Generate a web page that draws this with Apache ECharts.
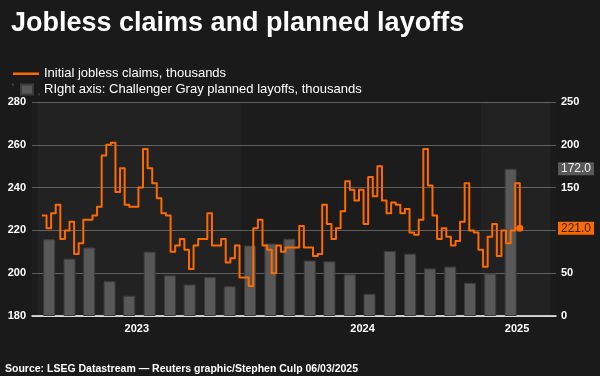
<!DOCTYPE html>
<html>
<head>
<meta charset="utf-8">
<script src="https://cdn.jsdelivr.net/npm/echarts@6/dist/echarts.min.js"></script>
<style>
  html, body { margin: 0; background: #1a1a1a; }
  #chart { width: 600px; height: 376px; }
</style>
</head>
<body>
<div id="chart"></div>
<script>
// weekly initial jobless claims (thousands), weeks ending Saturday from 2023-03-04
var firstWeek = '2023-03-04';
var claims = [
  227, 221, 228, 232, 216, 220, 224, 209, 214, 225, 225, 227, 231, 255, 260, 261,
  238, 249, 232, 231, 231, 240, 258, 249, 242, 235, 228, 227, 210, 213, 216, 211,
  202, 213, 216, 216, 228, 213, 213, 216, 205, 207, 213, 198, 198, 194, 221, 225,
  213, 211, 200, 213, 210, 212, 212, 212, 222, 212, 212, 208, 209, 232, 223, 216,
  221, 229, 243, 239, 234, 239, 223, 245, 236, 250, 234, 228, 233, 232, 228, 230,
  219, 218, 225, 258, 241, 227, 216, 221, 217, 213, 215, 224, 242, 220, 219, 211,
  203, 217, 223, 208, 220, 214, 220, 242, 221
];

// Challenger Gray monthly planned layoffs (thousands)
var layoffMonths = [
  '2023-03', '2023-04', '2023-05', '2023-06', '2023-07', '2023-08', '2023-09', '2023-10',
  '2023-11', '2023-12', '2024-01', '2024-02', '2024-03', '2024-04', '2024-05', '2024-06',
  '2024-07', '2024-08', '2024-09', '2024-10', '2024-11', '2024-12', '2025-01', '2025-02'
];
var layoffs = [
  89.7, 67.0, 80.1, 40.7, 23.7, 75.2, 47.5, 36.8, 45.5, 34.8, 82.3, 84.6,
  90.3, 64.8, 63.8, 48.8, 25.9, 75.9, 72.8, 55.6, 57.7, 38.8, 49.8, 172.0
];

var xStart = '2023-02-26';
var xEnd = '2025-04-16';
var yearLabelDates = ['2023-08-01', '2024-07-02', '2025-02-17'];
var shadedYears = [[xStart, '2024-01-01'], ['2025-01-01', xEnd]];

var orange = '#ff6a00';
var barGray = '#585858';
var font = 'Liberation Sans, Arial, sans-serif';

function ts(d) { return new Date(d + 'T00:00:00Z').getTime(); }
var day = 24 * 3600 * 1000;
var t0 = ts(firstWeek);
var claimData = claims.map(function(v, i) { return [t0 + i * 7 * day, v]; });
var layoffData = layoffs.map(function(v, i) { return [ts(layoffMonths[i] + '-15'), v]; });
var lastClaim = claimData[claimData.length - 1];
var lastLayoff = layoffs[layoffs.length - 1];

var chart = echarts.init(document.getElementById('chart'), null, { renderer: 'canvas' });

chart.setOption({
  backgroundColor: '#1a1a1a',
  animation: false,
  textStyle: { fontFamily: font },
  title: [{
    text: 'Jobless claims and planned layoffs',
    left: 6, top: 5,
    textStyle: { color: '#ffffff', fontSize: 27, fontWeight: 'bold', fontFamily: font }
  }, {
    text: 'Source: LSEG Datastream \u2014 Reuters graphic/Stephen Culp 06/03/2025',
    left: 0, top: 359,
    textStyle: { color: '#ffffff', fontSize: 10.5, fontWeight: 'bold', fontFamily: font }
  }],
  legend: {
    orient: 'vertical',
    left: 12, top: 67, padding: 0,
    itemWidth: 26, itemHeight: 10, itemGap: 3,
    textStyle: { color: '#ffffff', fontSize: 13, fontFamily: font },
    data: [
      { name: 'Initial jobless claims, thousands',
        icon: 'path://M0,0h0.01v0.01h-0.01zM0,4h26v2.4h-26zM25.99,9.99h0.01v0.01h-0.01z' },
      { name: 'RIght axis: Challenger Gray planned layoffs, thousands',
        icon: 'path://M0,0h0.01v0.01h-0.01zM8,0h12v10h-12zM25.99,9.99h0.01v0.01h-0.01z' }
    ]
  },
  grid: {
    left: 32, right: 44, top: 102, bottom: 60,
    show: true, backgroundColor: '#1c1c1c', borderWidth: 0
  },
  xAxis: [{
    type: 'time',
    min: ts(xStart), max: ts(xEnd),
    axisLine: { lineStyle: { color: '#ffffff', width: 1.5 } },
    axisTick: { show: false },
    splitLine: { show: false },
    axisLabel: { show: false }
  }, {
    type: 'value',
    position: 'bottom',
    min: ts(xStart), max: ts(xEnd),
    axisLine: { show: false },
    axisTick: { show: false },
    splitLine: { show: false },
    axisLabel: {
      customValues: yearLabelDates.map(ts),
      formatter: function(v) { return String(new Date(v).getUTCFullYear()); },
      color: '#ffffff', fontSize: 11, fontWeight: 'bold', margin: 7
    }
  }],
  yAxis: [{
    type: 'value',
    min: 180, max: 280, interval: 20,
    axisLine: { show: false },
    axisTick: { show: false },
    splitLine: { lineStyle: { color: '#5e5e5e', width: 1 } },
    axisLabel: { color: '#ffffff', fontSize: 11, fontWeight: 'bold', margin: 6 }
  }, {
    type: 'value',
    min: 0, max: 250, interval: 50,
    position: 'right',
    axisLine: { show: false },
    axisTick: { show: false },
    splitLine: { show: false },
    axisLabel: { color: '#ffffff', fontSize: 11, fontWeight: 'bold', margin: 5 }
  }],
  series: [{
    name: 'RIght axis: Challenger Gray planned layoffs, thousands',
    type: 'bar',
    yAxisIndex: 1,
    barWidth: 12,
    data: layoffData,
    itemStyle: { color: barGray, borderColor: '#3c3c3c', borderWidth: 1 },
    markArea: {
      silent: true,
      itemStyle: { color: 'rgba(255,255,255,0.028)' },
      data: shadedYears.map(function(p) { return [{ xAxis: ts(p[0]) }, { xAxis: ts(p[1]) }]; })
    },
    markLine: {
      silent: true, symbol: 'none',
      lineStyle: { color: 'rgba(0,0,0,0)', width: 0 },
      label: {
        show: true, position: 'end', distance: 2,
        formatter: lastLayoff.toFixed(1),
        color: '#f0f0f0', backgroundColor: barGray,
        fontSize: 12, padding: [1, 3, 0, 3]
      },
      data: [{ yAxis: lastLayoff }]
    }
  }, {
    name: 'Initial jobless claims, thousands',
    type: 'line',
    yAxisIndex: 0,
    step: 'end',
    symbol: 'none',
    data: claimData,
    z: 3,
    itemStyle: { color: orange },
    lineStyle: { color: orange, width: 2, join: 'round' },
    markPoint: {
      silent: true,
      symbol: 'circle', symbolSize: 7,
      itemStyle: { color: orange },
      label: { show: false },
      data: [{ coord: lastClaim }]
    },
    markLine: {
      silent: true, symbol: 'none',
      lineStyle: { color: 'rgba(0,0,0,0)', width: 0 },
      label: {
        show: true, position: 'end', distance: 2,
        formatter: lastClaim[1].toFixed(1),
        color: '#262626', backgroundColor: orange,
        fontSize: 12, padding: [1, 3, 0, 3]
      },
      data: [{ yAxis: lastClaim[1] }]
    }
  }]
});

window.addEventListener('resize', function() { chart.resize(); });
</script>
</body>
</html>
